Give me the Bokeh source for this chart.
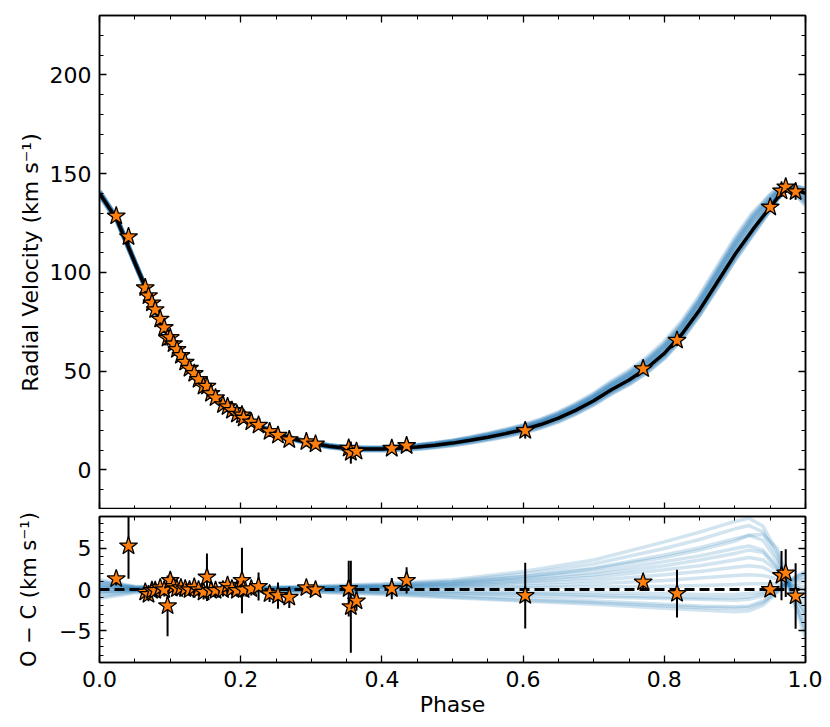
import numpy as np
from bokeh.plotting import figure
from bokeh.layouts import column
from bokeh.models import LinearAxis, SingleIntervalTicker, Range1d, PrintfTickFormatter
from bokeh.embed import file_html
from bokeh.resources import INLINE

# ---------------- data ----------------
phase = [0.0237, 0.0411, 0.0648, 0.0694, 0.0743, 0.0789, 0.0860, 0.0917, 0.0964,
         0.1002, 0.1049, 0.1097, 0.1153, 0.1214, 0.1275, 0.1342, 0.1403, 0.1474, 0.1522,
         0.1579, 0.1644, 0.1749, 0.1814, 0.1876, 0.1947, 0.2018, 0.2041, 0.2150, 0.2253,
         0.2409, 0.2528, 0.2688, 0.293, 0.306, 0.353, 0.356, 0.364, 0.414, 0.435,
         0.603, 0.770, 0.818, 0.950, 0.966, 0.972, 0.986]
rv = [128.5, 118.0, 92.2, 88.1, 84.5, 81.1, 76.3, 72.0, 66.6,
      67.0, 63.8, 60.9, 57.9, 54.5, 51.4, 48.8, 45.8, 42.3, 42.3,
      38.7, 36.5, 33.0, 32.0, 30.1, 28.2, 27.8, 26.2, 24.3, 22.6,
      19.4, 17.5, 15.3, 14.3, 13.1, 11.0, 8.8, 9.4, 10.9, 12.3,
      19.9, 51.2, 65.6, 133.0, 141.2, 143.2, 140.8]
residual = [1.3, 5.3, -0.33, -0.62, -0.12, -0.12, 0.2, -0.04, -2.0,
            1.1, 0.37, 0.08, 0.2, 0.08, -0.04, 0.29, -0.04, -0.33, 1.5,
            -0.12, -0.12, -0.04, 0.5, 0.08, -0.12, 1.1, -0.04, 0.08, 0.37,
            -0.53, -0.74, -0.95, 0.2, -0.05, 0.1, -2.1, -1.4, 0.1, 1.1,
            -0.75, 0.9, -0.5, 0.0, 1.7, 2.0, -0.8]
rv_err = [0.8, 4.0, 0.9, 0.8, 0.7, 0.8, 0.9, 0.8, 3.7,
          1.0, 0.8, 0.9, 0.7, 0.8, 0.7, 0.9, 0.8, 0.9, 2.9,
          0.8, 0.7, 0.8, 0.9, 0.8, 0.7, 4.0, 0.8, 0.8, 1.7,
          1.0, 1.6, 1.3, 0.5, 0.6, 3.4, 5.6, 1.2, 1.3, 1.6,
          4.0, 0.8, 2.9, 0.5, 3.0, 2.9, 4.0]

# best-fit model curve
model_phase = [0.0, 0.025, 0.05, 0.075, 0.1, 0.125, 0.15, 0.175, 0.2, 0.225, 0.25,
               0.275, 0.3, 0.325, 0.35, 0.375, 0.4, 0.425, 0.45, 0.475, 0.5,
               0.525, 0.55, 0.575, 0.6, 0.625, 0.65, 0.675, 0.7, 0.725, 0.75,
               0.775, 0.8, 0.825, 0.85, 0.875, 0.9, 0.925, 0.95, 0.96, 0.97,
               0.975, 0.98, 0.99, 1.0]
model_rv = [140.0, 126.5, 105.0, 84.0, 66.0, 52.5, 41.5, 33.0, 27.0, 22.3, 18.5,
            15.6, 13.5, 12.0, 11.0, 10.6, 10.6, 11.0, 11.6, 12.5, 13.6,
            15.0, 16.6, 18.4, 20.4, 23.0, 26.2, 30.3, 35.0, 40.6, 45.5,
            51.5, 59.0, 68.8, 81.0, 95.0, 109.0, 121.5, 133.0, 137.5, 140.8,
            141.7, 142.0, 141.3, 140.0]

# posterior draws, as deviations from the best fit
draw_phase = [0.0, 0.05, 0.1, 0.2, 0.3, 0.4, 0.5, 0.6, 0.7, 0.8, 0.85, 0.9,
              0.92, 0.94, 0.96, 0.97, 0.98, 0.99, 1.0]
draw_dev = [
    [1.2, 0.4, 0.2, 0.2, 0.4, 0.7, 1.2, 2.2, 3.6, 5.8, 7.0, 8.3, 8.7, 7.7, 4.5, 1.9, -0.8, -3.3, -5.9],
    [1.0, 0.3, 0.2, 0.2, 0.3, 0.6, 1.0, 1.9, 3.1, 5.0, 6.1, 7.4, 7.8, 7.0, 3.9, 1.9, -0.4, -2.6, -4.8],
    [0.8, 0.3, 0.1, 0.1, 0.3, 0.5, 0.9, 1.6, 2.6, 4.2, 5.1, 6.2, 6.6, 6.0, 3.4, 1.7, -0.2, -2.0, -3.8],
    [0.9, 0.3, 0.1, 0.1, 0.2, 0.5, 0.8, 1.5, 2.5, 3.9, 4.8, 5.9, 6.6, 6.7, 5.0, 2.5, -0.5, -2.8, -5.2],
    [0.6, 0.2, 0.1, 0.1, 0.2, 0.4, 0.7, 1.3, 2.1, 3.4, 4.1, 5.0, 5.3, 4.8, 2.8, 1.5, 0.1, -1.4, -2.9],
    [0.3, 0.1, 0.0, 0.1, 0.2, 0.3, 0.6, 1.1, 1.8, 2.9, 3.6, 4.4, 4.8, 4.5, 2.6, 1.3, -0.2, -1.5, -3.0],
    [0.5, 0.2, 0.1, 0.1, 0.2, 0.3, 0.5, 0.9, 1.5, 2.4, 2.9, 3.6, 3.9, 3.6, 2.3, 1.4, 0.3, -0.8, -2.0],
    [0.4, 0.1, 0.0, 0.1, 0.1, 0.2, 0.4, 0.7, 1.1, 1.8, 2.2, 2.7, 2.9, 2.7, 1.8, 1.2, 0.5, -0.3, -1.2],
    [0.2, 0.1, 0.0, 0.0, 0.1, 0.2, 0.3, 0.4, 0.7, 1.1, 1.4, 1.7, 1.8, 1.7, 1.3, 1.0, 0.6, 0.2, -0.3],
    [0.0, 0.0, 0.0, 0.0, 0.0, 0.1, 0.1, 0.2, 0.3, 0.4, 0.5, 0.6, 0.7, 0.7, 0.7, 0.6, 0.5, 0.4, 0.3],
    [-0.2, -0.1, 0.0, 0.0, -0.1, -0.1, -0.2, -0.3, -0.4, -0.5, -0.6, -0.6, -0.5, -0.3, 0.1, 0.4, 0.6, 0.8, 1.0],
    [-0.3, -0.1, 0.0, -0.1, -0.1, -0.2, -0.4, -0.5, -0.7, -0.9, -1.0, -1.0, -0.9, -0.5, 0.2, 0.7, 1.0, 1.2, 1.3],
    [-0.4, -0.1, 0.0, -0.1, -0.1, -0.3, -0.5, -0.7, -0.9, -1.1, -1.2, -1.3, -1.2, -0.8, 0.0, 0.5, 0.9, 1.3, 1.6],
    [-0.6, -0.2, -0.1, -0.1, -0.2, -0.4, -0.7, -1.0, -1.4, -1.8, -2.0, -2.1, -2.0, -1.4, -0.2, 0.6, 1.1, 1.6, 2.0],
    [-0.9, -0.3, -0.1, -0.2, -0.3, -0.6, -1.0, -1.4, -1.8, -2.3, -2.5, -2.7, -2.6, -1.9, -0.4, 0.5, 1.2, 1.8, 2.2],
    [-1.1, -0.4, -0.2, -0.2, -0.3, -0.5, -0.9, -1.3, -1.6, -2.0, -2.2, -2.3, -2.2, -1.6, -0.2, 0.7, 1.3, 1.7, 2.0],
]

# ---------------- styling ----------------
FONT = "DejaVu Sans"
BLUE = "#1f77b4"
ORANGE = "#ff7f0e"
FS = "22px"


def tick_axis(ax):
    ax.major_tick_in = 7
    ax.major_tick_out = 0
    ax.minor_tick_in = 4
    ax.minor_tick_out = 0
    ax.axis_line_width = 1.5
    ax.major_tick_line_width = 1.3
    ax.minor_tick_line_width = 1.0
    ax.axis_line_color = "black"
    ax.major_label_text_font = FONT
    ax.major_label_text_font_size = FS
    ax.major_label_text_color = "black"
    ax.axis_label_text_font = FONT
    ax.axis_label_text_font_size = FS
    ax.axis_label_text_font_style = "normal"
    ax.axis_label_text_color = "black"


def hide_labels(ax):
    ax.major_label_text_color = None
    ax.major_label_text_font_size = "1px"
    ax.major_label_standoff = 0


def style_fig(p, y_interval, y_minor, show_x_labels):
    bottom = p.below[0]
    left = p.left[0]
    bottom.ticker = SingleIntervalTicker(interval=0.2, num_minor_ticks=4)
    left.ticker = SingleIntervalTicker(interval=y_interval, num_minor_ticks=y_minor)
    top = LinearAxis(ticker=SingleIntervalTicker(interval=0.2, num_minor_ticks=4))
    right = LinearAxis(ticker=SingleIntervalTicker(interval=y_interval, num_minor_ticks=y_minor))
    p.add_layout(top, "above")
    p.add_layout(right, "right")
    for ax in (bottom, left, top, right):
        tick_axis(ax)
    hide_labels(top)
    hide_labels(right)
    if not show_x_labels:
        hide_labels(bottom)
    bottom.formatter = PrintfTickFormatter(format="%.1f")
    left.major_label_standoff = 8
    p.grid.visible = False
    p.outline_line_color = "black"
    p.outline_line_width = 1.5
    p.background_fill_color = "white"
    p.border_fill_color = "white"
    return bottom, left


# ---------------- top panel ----------------
p1 = figure(frame_width=706, frame_height=494,
            x_range=Range1d(0, 1), y_range=Range1d(-20, 230),
            output_backend="svg", toolbar_location=None,
            min_border_left=99, min_border_right=17, min_border_top=15, min_border_bottom=0)
b1, l1 = style_fig(p1, 50, 5, show_x_labels=False)
l1.axis_label = "Radial Velocity (km s\u207b\u00b9)"
l1.axis_label_standoff = 4

mp = np.array(model_phase)
mrv = np.array(model_rv)
top_xs, top_ys = [], []
for dev in draw_dev:
    top_xs.append(model_phase)
    top_ys.append(list(mrv + np.interp(mp, draw_phase, dev)))
p1.multi_line(xs=top_xs, ys=top_ys, line_color=BLUE, line_alpha=0.16, line_width=5)
p1.line(model_phase, model_rv, line_color="black", line_width=3.5)
rv_a = np.array(rv)
err_a = np.array(rv_err)
p1.segment(x0=phase, y0=list(rv_a - err_a), x1=phase, y1=list(rv_a + err_a),
           line_color="black", line_width=2)
p1.scatter(phase, rv, marker="star", size=19, fill_color=ORANGE,
           line_color="black", line_width=1.3)

# ---------------- bottom panel ----------------
p2 = figure(frame_width=706, frame_height=146,
            x_range=p1.x_range, y_range=Range1d(-8.9, 8.9),
            output_backend="svg", toolbar_location=None,
            min_border_left=99, min_border_right=17, min_border_top=7, min_border_bottom=50)
b2, l2 = style_fig(p2, 5, 5, show_x_labels=True)
l2.axis_label = "O \u2212 C (km s\u207b\u00b9)"
l2.axis_label_text_font_size = "21px"
l2.axis_label_standoff = 15
l2.major_label_overrides = {-5: "\u22125"}
b2.axis_label = "Phase"
b2.major_label_standoff = 8
b2.axis_label_standoff = 2

bot_xs = [draw_phase for _ in draw_dev]
p2.multi_line(xs=bot_xs, ys=draw_dev, line_color=BLUE, line_alpha=0.2, line_width=3.5)
p2.line(model_phase, [0.0] * len(model_phase), line_color="black", line_width=2.8,
        line_dash="10 5")
res_a = np.array(residual)
p2.segment(x0=phase, y0=list(res_a - err_a), x1=phase, y1=list(res_a + err_a),
           line_color="black", line_width=2)
p2.scatter(phase, residual, marker="star", size=19, fill_color=ORANGE,
           line_color="black", line_width=1.3)

layout = column(p1, p2, spacing=0)
open("out.html", "w").write(file_html(layout, INLINE))
